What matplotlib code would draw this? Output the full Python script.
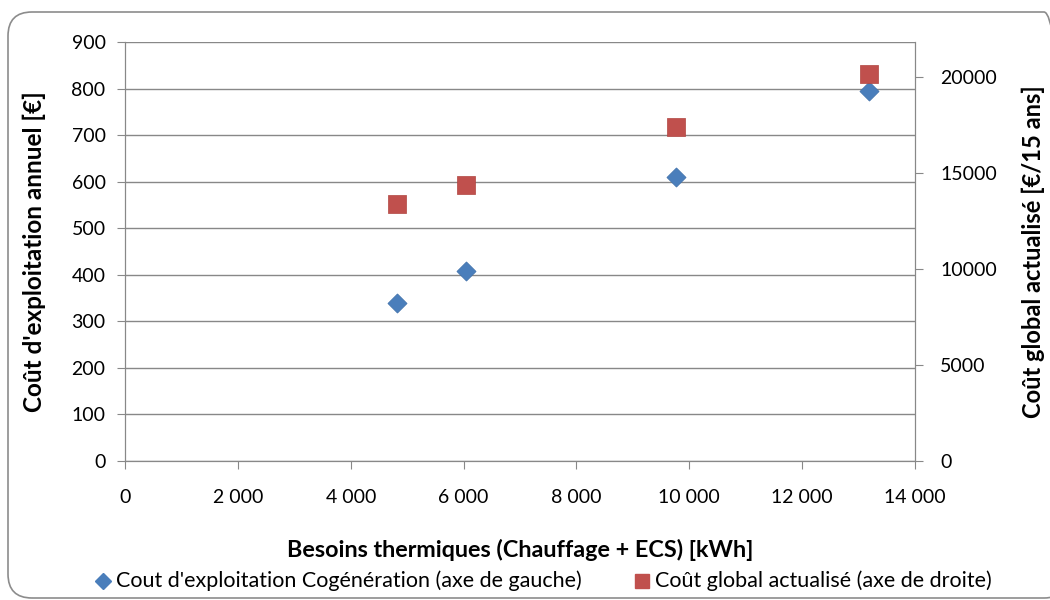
import numpy as np
import matplotlib.pyplot as plt
from matplotlib.patches import FancyBboxPatch
from matplotlib.transforms import IdentityTransform
from matplotlib.ticker import FuncFormatter, MultipleLocator

plt.rcParams['font.family'] = ['Lato', 'DejaVu Sans']

# Données
besoins = [4820, 6040, 9760, 13180]          # kWh
cout_exploit = [340, 408, 610, 795]          # €/an (axe de gauche)
cout_global = [13400, 14400, 17420, 20200]   # €/15 ans (axe de droite)

nom_bleu = "Cout d'exploitation Cogénération (axe de gauche)"
nom_rouge = "Coût global actualisé (axe de droite)"

fig = plt.figure(figsize=(10.5, 6), dpi=100)
ax = fig.add_axes([125/1050, 1-461/600, 790/1050, 419/600])
ax2 = ax.twinx()

# cadre arrondi du graphique (en pixels)
cadre = FancyBboxPatch((8, 2), 1060, 586,
                       boxstyle="round,pad=0,rounding_size=24",
                       transform=IdentityTransform(), fill=False,
                       edgecolor='#8c8c8c', linewidth=1.2, clip_on=False)
fig.patches.append(cadre)

ax.scatter(besoins, cout_exploit, marker='D', s=95, color='#4a7ebb',
           edgecolors='#3d6ea8', linewidths=0.5, zorder=3, clip_on=False)
ax2.scatter(besoins, cout_global, marker='s', s=170, color='#c0504d',
            edgecolors='#b04440', linewidths=0.5, zorder=3, clip_on=False)

ax.set_xlim(0, 14000)
ax.set_ylim(0, 900)
ax2.set_ylim(0, 21850)
ax.xaxis.set_major_locator(MultipleLocator(2000))
ax.yaxis.set_major_locator(MultipleLocator(100))
ax2.yaxis.set_major_locator(MultipleLocator(5000))
ax.xaxis.set_major_formatter(FuncFormatter(lambda v, p: f"{int(v):,}".replace(',', ' ')))

ax.grid(axis='y', color='#888888', linewidth=1.0)
ax.set_axisbelow(True)

for a in (ax, ax2):
    a.spines['top'].set_visible(False)
    for s in ('left', 'right', 'bottom'):
        a.spines[s].set_color('#888888')
    a.tick_params(direction='out', length=6, color='#888888', labelsize=14,
                  labelcolor='black')
ax.tick_params(axis='x', pad=14)
ax.tick_params(axis='y', pad=8)
ax2.tick_params(axis='y', pad=12)

ax.set_xlabel("Besoins thermiques (Chauffage + ECS) [kWh]", fontsize=16.8,
              fontweight='bold', labelpad=24)
ax.set_ylabel("Coût d'exploitation annuel [€]", fontsize=17.5,
              fontweight='bold', labelpad=18)
ax2.set_ylabel("Coût global actualisé [€/15 ans]", fontsize=17,
               fontweight='bold', labelpad=18)

# légende en bas
fig.lines.append(plt.Line2D([103/1050], [1-581/600], marker='D', markersize=8,
                            color='#4a7ebb', transform=fig.transFigure))
fig.text(116/1050, 1-581/600, nom_bleu, fontsize=15.5, va='center')
fig.lines.append(plt.Line2D([642/1050], [1-581/600], marker='s', markersize=10,
                            color='#c0504d', transform=fig.transFigure))
fig.text(655/1050, 1-581/600, nom_rouge, fontsize=15.5, va='center')

fig.savefig('out.png', dpi=100)
